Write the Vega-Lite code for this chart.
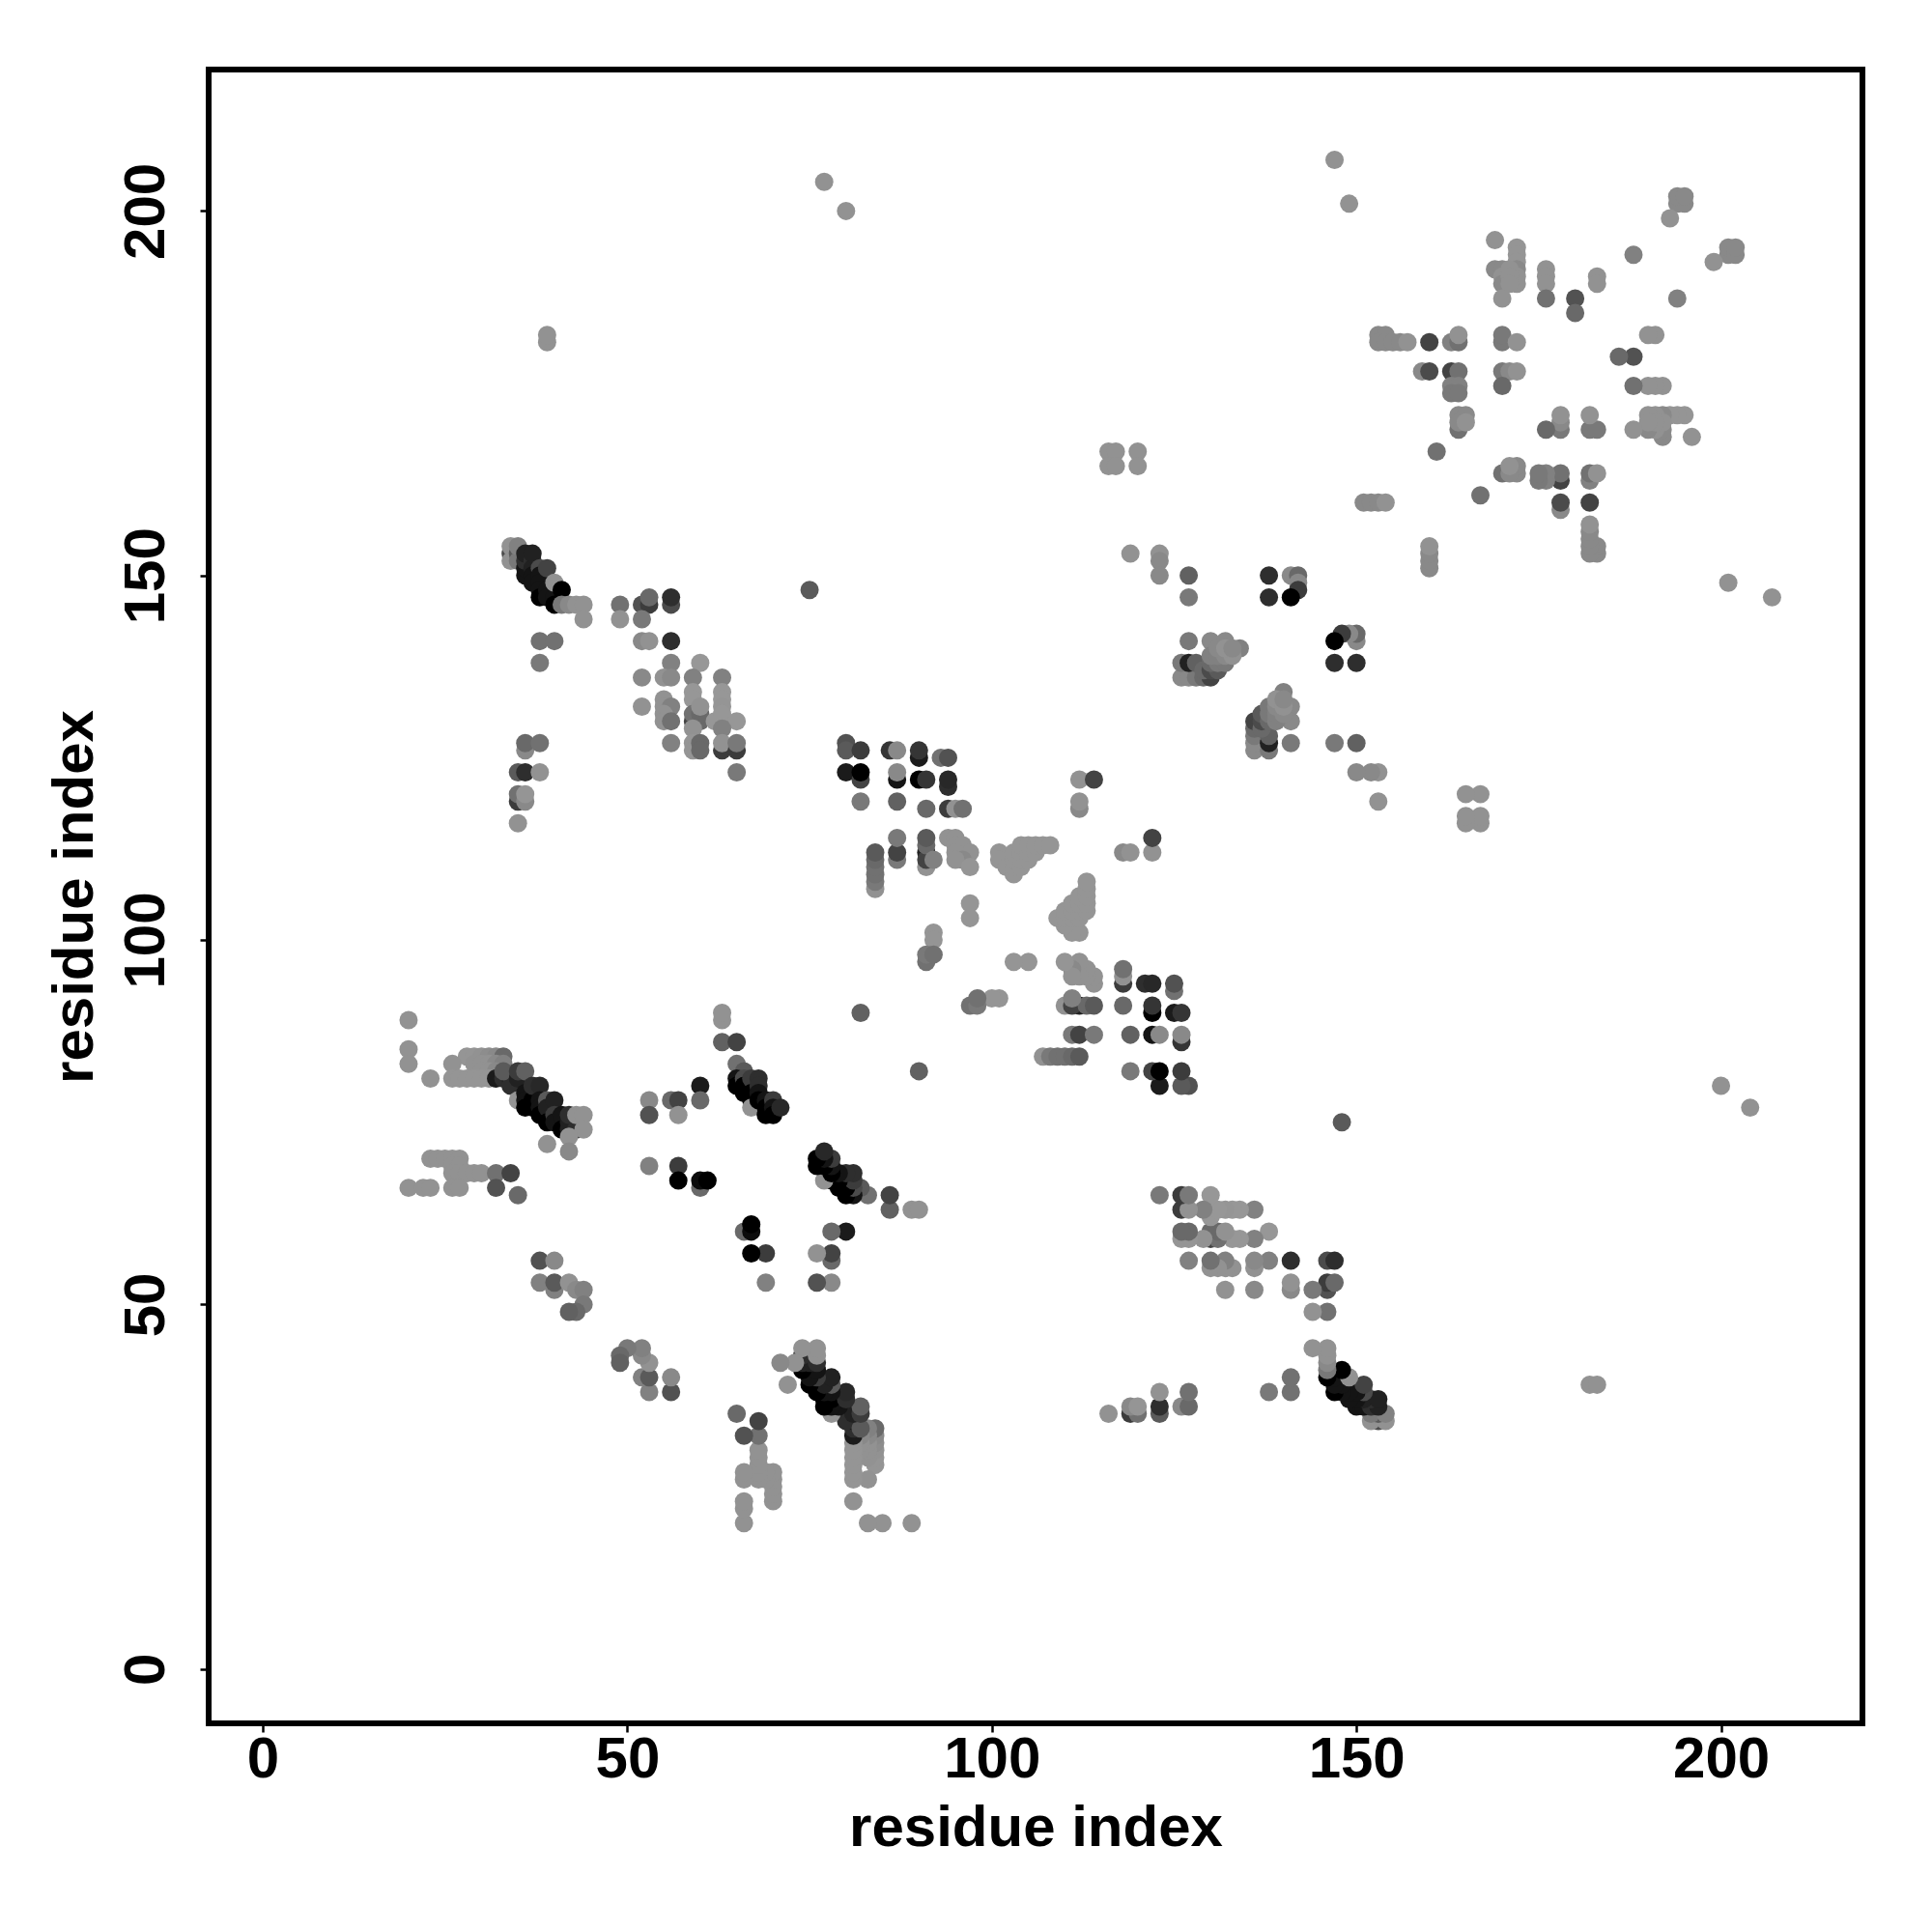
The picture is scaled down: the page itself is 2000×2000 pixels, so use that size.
{"$schema":"https://vega.github.io/schema/vega-lite/v6.json","width":1712,"height":1712,"autosize":{"type":"none"},"padding":{"left":216,"top":72,"right":72,"bottom":216},"background":"white","config":{"view":{"stroke":"black","strokeWidth":6,"fill":"white"},"axis":{"grid":false,"domain":false,"tickColor":"black","tickWidth":2.5,"tickSize":9,"labelFont":"Liberation Sans","labelFontWeight":"bold","labelFontSize":60,"labelColor":"black","titleFont":"Liberation Sans","titleFontWeight":"bold","titleFontSize":60,"titleColor":"black","labelFlush":false,"labelOverlap":false}},
"data":{"values":[
{"i":34,"j":153,"p":0.5},{"i":34,"j":152,"p":0.05},{"i":34,"j":154,"p":0.05},{"i":35,"j":153,"p":0.4},{"i":35,"j":152,"p":0.2},{"i":35,"j":154,"p":0.15},{"i":36,"j":150,"p":0.9},{"i":36,"j":151,"p":0.9},{"i":36,"j":152,"p":0.7},{"i":36,"j":153,"p":0.8},{"i":37,"j":152,"p":0.7},{"i":37,"j":151,"p":0.8},{"i":37,"j":150,"p":0.9},{"i":37,"j":149,"p":0.9},{"i":37,"j":153,"p":0.8},{"i":38,"j":151,"p":0.5},{"i":38,"j":150,"p":0.9},{"i":38,"j":149,"p":0.9},{"i":38,"j":148,"p":0.9},{"i":38,"j":147,"p":1},{"i":39,"j":151,"p":0.55},{"i":39,"j":148,"p":0.9},{"i":39,"j":147,"p":0.9},{"i":40,"j":147,"p":0.9},{"i":40,"j":146,"p":1},{"i":40,"j":149,"p":0.05},{"i":41,"j":148,"p":1},{"i":41,"j":146,"p":0.2},{"i":42,"j":146,"p":0.1},{"i":43,"j":146,"p":0.05},{"i":44,"j":146,"p":0.05},{"i":44,"j":144,"p":0.05},
{"i":49,"j":146,"p":0.25},{"i":49,"j":144,"p":0.05},{"i":52,"j":146,"p":0.45},{"i":53,"j":146,"p":0.6},{"i":53,"j":147,"p":0.3},{"i":52,"j":144,"p":0.2},{"i":56,"j":146,"p":0.5},{"i":56,"j":147,"p":0.7},{"i":52,"j":141,"p":0.1},{"i":53,"j":141,"p":0.05},{"i":56,"j":141,"p":0.7},{"i":38,"j":141,"p":0.25},{"i":40,"j":141,"p":0.25},{"i":38,"j":138,"p":0.2},{"i":56,"j":138,"p":0.15},{"i":60,"j":138,"p":0.02},{"i":52,"j":136,"p":0.1},{"i":55,"j":136,"p":0.05},{"i":56,"j":136,"p":0.1},{"i":59,"j":136,"p":0.15},{"i":63,"j":136,"p":0.15},{"i":59,"j":134,"p":0.02},{"i":63,"j":134,"p":0.02},{"i":55,"j":133,"p":0.05},{"i":59,"j":133,"p":0.02},{"i":63,"j":133,"p":0.02},{"i":52,"j":132,"p":0.05},{"i":55,"j":132,"p":0.05},{"i":56,"j":132,"p":0.15},{"i":59,"j":130,"p":0.55},{"i":60,"j":130,"p":0.3},{"i":59,"j":131,"p":0.25},{"i":60,"j":131,"p":0.3},{"i":60,"j":132,"p":0.05},{"i":63,"j":130,"p":0.55},{"i":63,"j":132,"p":0.03},{"i":55,"j":131,"p":0.05},{"i":55,"j":130,"p":0.05},{"i":56,"j":130,"p":0.25},{"i":62,"j":130,"p":0.02},{"i":63,"j":131,"p":0.02},{"i":65,"j":130,"p":0.02},{"i":63,"j":129,"p":0.15},{"i":59,"j":129,"p":0.05},{"i":56,"j":127,"p":0.15},{"i":59,"j":127,"p":0.03},{"i":59,"j":126,"p":0.03},{"i":60,"j":127,"p":0.3},{"i":60,"j":126,"p":0.3},{"i":63,"j":126,"p":0.6},{"i":63,"j":127,"p":0.05},{"i":65,"j":126,"p":0.6},{"i":65,"j":127,"p":0.2},{"i":65,"j":123,"p":0.2},
{"i":36,"j":126,"p":0.1},{"i":36,"j":127,"p":0.3},{"i":38,"j":127,"p":0.25},{"i":35,"j":123,"p":0.4},{"i":36,"j":123,"p":0.7},{"i":38,"j":123,"p":0.05},{"i":35,"j":119,"p":0.6},{"i":35,"j":120,"p":0.25},{"i":36,"j":119,"p":0.1},{"i":36,"j":120,"p":0.03},{"i":35,"j":116,"p":0.05},
{"i":80,"j":127,"p":0.45},{"i":80,"j":126,"p":0.4},{"i":82,"j":126,"p":0.6},{"i":86,"j":126,"p":0.65},{"i":87,"j":126,"p":0.1},{"i":90,"j":125,"p":0.85},{"i":90,"j":126,"p":0.65},{"i":93,"j":125,"p":0.25},{"i":94,"j":125,"p":0.45},{"i":80,"j":123,"p":0.85},{"i":82,"j":122,"p":0.55},{"i":82,"j":123,"p":1},{"i":87,"j":122,"p":0.9},{"i":87,"j":123,"p":0.1},{"i":90,"j":122,"p":1},{"i":91,"j":122,"p":0.65},{"i":94,"j":121,"p":0.7},{"i":94,"j":122,"p":0.75},{"i":82,"j":119,"p":0.2},{"i":87,"j":119,"p":0.35},{"i":91,"j":118,"p":0.3},{"i":94,"j":118,"p":0.6},{"i":95,"j":118,"p":0.05},{"i":96,"j":118,"p":0.25},
{"i":112,"j":122,"p":0.05},{"i":114,"j":122,"p":0.55},{"i":112,"j":118,"p":0.1},{"i":112,"j":119,"p":0.05},{"i":87,"j":111,"p":0.2},{"i":87,"j":112,"p":0.55},{"i":87,"j":114,"p":0.2},{"i":91,"j":110,"p":0.05},{"i":91,"j":112,"p":0.8},{"i":91,"j":111,"p":0.55},{"i":91,"j":113,"p":0.3},{"i":91,"j":114,"p":0.4},{"i":92,"j":111,"p":0.15},{"i":84,"j":107,"p":0.05},{"i":84,"j":108,"p":0.2},{"i":84,"j":109,"p":0.25},{"i":84,"j":110,"p":0.25},{"i":84,"j":111,"p":0.3},{"i":84,"j":112,"p":0.4},
{"i":94,"j":114,"p":0.05},{"i":95,"j":114,"p":0.05},{"i":95,"j":113,"p":0.05},{"i":96,"j":113,"p":0.05},{"i":97,"j":112,"p":0.05},{"i":95,"j":112,"p":0.05},{"i":96,"j":111,"p":0.1},{"i":95,"j":111,"p":0.05},{"i":97,"j":110,"p":0.03},{"i":97,"j":105,"p":0.03},{"i":97,"j":103,"p":0.03},{"i":92,"j":101,"p":0.03},{"i":92,"j":100,"p":0.03},{"i":91,"j":97,"p":0.25},{"i":91,"j":98,"p":0.2},{"i":92,"j":98,"p":0.25},{"i":82,"j":90,"p":0.35},
{"i":101,"j":112,"p":0.03},{"i":101,"j":111,"p":0.03},{"i":102,"j":110,"p":0.03},{"i":103,"j":109,"p":0.03},{"i":103,"j":110,"p":0.03},{"i":103,"j":111,"p":0.03},{"i":103,"j":112,"p":0.03},{"i":104,"j":110,"p":0.03},{"i":104,"j":111,"p":0.03},{"i":104,"j":112,"p":0.03},{"i":104,"j":113,"p":0.03},{"i":105,"j":111,"p":0.03},{"i":105,"j":112,"p":0.03},{"i":105,"j":113,"p":0.03},{"i":106,"j":112,"p":0.03},{"i":106,"j":113,"p":0.03},{"i":107,"j":113,"p":0.03},{"i":108,"j":113,"p":0.03},
{"i":28,"j":84,"p":0.03},{"i":29,"j":84,"p":0.03},{"i":30,"j":84,"p":0.05},{"i":31,"j":84,"p":0.08},{"i":32,"j":84,"p":0.1},{"i":33,"j":84,"p":0.3},{"i":20,"j":89,"p":0.05},{"i":20,"j":85,"p":0.05},{"i":20,"j":83,"p":0.05},{"i":23,"j":81,"p":0.05},{"i":26,"j":83,"p":0.05},{"i":29,"j":83,"p":0.05},{"i":30,"j":83,"p":0.05},{"i":31,"j":83,"p":0.05},{"i":32,"j":83,"p":0.1},{"i":33,"j":83,"p":0.15},{"i":30,"j":82,"p":0.05},{"i":31,"j":82,"p":0.05},{"i":32,"j":82,"p":0.1},{"i":26,"j":81,"p":0.03},{"i":27,"j":81,"p":0.03},{"i":28,"j":81,"p":0.03},{"i":29,"j":81,"p":0.03},{"i":30,"j":81,"p":0.03},{"i":31,"j":81,"p":0.03},{"i":32,"j":81,"p":0.85},{"i":33,"j":81,"p":0.7},{"i":34,"j":81,"p":0.85},{"i":34,"j":80,"p":0.7},{"i":33,"j":82,"p":0.4},{"i":35,"j":78,"p":0.03},{"i":35,"j":81,"p":0.8},{"i":35,"j":82,"p":0.6},{"i":36,"j":82,"p":0.35},{"i":36,"j":79,"p":0.9},{"i":37,"j":79,"p":0.9},{"i":36,"j":78,"p":0.9},{"i":36,"j":77,"p":1},{"i":37,"j":77,"p":1},{"i":37,"j":78,"p":1},{"i":37,"j":80,"p":0.7},{"i":38,"j":80,"p":0.75},{"i":38,"j":78,"p":0.9},{"i":38,"j":77,"p":0.9},{"i":38,"j":76,"p":1},{"i":39,"j":78,"p":0.4},{"i":39,"j":77,"p":0.8},{"i":39,"j":75,"p":1},{"i":40,"j":78,"p":0.8},{"i":40,"j":76,"p":0.6},{"i":40,"j":75,"p":0.9},{"i":41,"j":76,"p":0.9},{"i":41,"j":74,"p":1},{"i":42,"j":75,"p":0.8},{"i":42,"j":74,"p":0.8},{"i":42,"j":76,"p":0.7},{"i":43,"j":74,"p":0.7},{"i":43,"j":76,"p":0.05},{"i":44,"j":76,"p":0.05},{"i":44,"j":74,"p":0.05},{"i":42,"j":73,"p":0.05},{"i":39,"j":72,"p":0.05},{"i":42,"j":71,"p":0.1},
{"i":23,"j":70,"p":0.05},{"i":24,"j":70,"p":0.05},{"i":25,"j":70,"p":0.05},{"i":26,"j":70,"p":0.05},{"i":27,"j":70,"p":0.05},{"i":26,"j":69,"p":0.05},{"i":27,"j":69,"p":0.05},{"i":26,"j":68,"p":0.05},{"i":27,"j":68,"p":0.05},{"i":28,"j":68,"p":0.05},{"i":29,"j":68,"p":0.05},{"i":30,"j":68,"p":0.05},{"i":32,"j":68,"p":0.25},{"i":34,"j":68,"p":0.55},{"i":20,"j":66,"p":0.05},{"i":22,"j":66,"p":0.05},{"i":23,"j":66,"p":0.05},{"i":26,"j":66,"p":0.05},{"i":27,"j":66,"p":0.05},{"i":32,"j":66,"p":0.45},{"i":35,"j":65,"p":0.3},
{"i":38,"j":56,"p":0.45},{"i":40,"j":56,"p":0.1},{"i":38,"j":53,"p":0.15},{"i":40,"j":52,"p":0.15},{"i":40,"j":53,"p":0.4},{"i":42,"j":53,"p":0.05},{"i":43,"j":52,"p":0.1},{"i":44,"j":52,"p":0.15},{"i":44,"j":50,"p":0.2},{"i":43,"j":49,"p":0.3},{"i":42,"j":49,"p":0.35},
{"i":53,"j":78,"p":0.1},{"i":53,"j":76,"p":0.45},{"i":56,"j":78,"p":0.3},{"i":57,"j":78,"p":0.55},{"i":57,"j":76,"p":0.05},{"i":60,"j":80,"p":0.85},{"i":60,"j":78,"p":0.3},{"i":53,"j":69,"p":0.15},{"i":57,"j":69,"p":0.6},{"i":57,"j":67,"p":1},{"i":60,"j":66,"p":0.3},{"i":60,"j":67,"p":0.95},{"i":61,"j":67,"p":1},
{"i":63,"j":89,"p":0.05},{"i":63,"j":90,"p":0.05},{"i":63,"j":86,"p":0.35},{"i":65,"j":86,"p":0.55},{"i":65,"j":83,"p":0.25},{"i":66,"j":82,"p":0.4},{"i":65,"j":81,"p":0.9},{"i":65,"j":80,"p":1},{"i":66,"j":81,"p":0.5},{"i":66,"j":80,"p":1},{"i":66,"j":79,"p":1},{"i":67,"j":81,"p":0.6},{"i":67,"j":79,"p":1},{"i":67,"j":78,"p":1},{"i":67,"j":77,"p":0.05},{"i":68,"j":81,"p":0.7},{"i":68,"j":80,"p":0.7},{"i":68,"j":79,"p":0.9},{"i":68,"j":78,"p":1},{"i":69,"j":78,"p":0.9},{"i":69,"j":77,"p":1},{"i":69,"j":76,"p":1},{"i":70,"j":78,"p":0.6},{"i":70,"j":77,"p":0.9},{"i":70,"j":76,"p":1},{"i":71,"j":77,"p":0.75},
{"i":75,"j":148,"p":0.4},{"i":39,"j":182,"p":0.05},{"i":39,"j":183,"p":0.05},{"i":77,"j":204,"p":0.05},{"i":80,"j":200,"p":0.05},
{"i":119,"j":153,"p":0.05},{"i":123,"j":153,"p":0.05},{"i":123,"j":152,"p":0.1},{"i":123,"j":150,"p":0.1},{"i":127,"j":150,"p":0.35},{"i":127,"j":147,"p":0.2},{"i":138,"j":150,"p":0.7},{"i":141,"j":150,"p":0.1},{"i":142,"j":150,"p":0.3},{"i":142,"j":149,"p":0.1},{"i":142,"j":148,"p":0.6},{"i":138,"j":147,"p":0.7},{"i":141,"j":147,"p":1},
{"i":127,"j":141,"p":0.2},{"i":130,"j":141,"p":0.1},{"i":132,"j":141,"p":0.1},{"i":134,"j":140,"p":0.15},{"i":126,"j":136,"p":0.1},{"i":127,"j":136,"p":0.1},{"i":128,"j":136,"p":0.2},{"i":129,"j":136,"p":0.3},{"i":130,"j":136,"p":0.55},{"i":126,"j":138,"p":0.2},{"i":127,"j":138,"p":0.8},{"i":128,"j":138,"p":0.35},{"i":129,"j":137,"p":0.3},{"i":130,"j":137,"p":0.5},{"i":131,"j":137,"p":0.4},{"i":130,"j":138,"p":0.3},{"i":131,"j":138,"p":0.2},{"i":132,"j":138,"p":0.2},{"i":130,"j":139,"p":0.15},{"i":131,"j":139,"p":0.15},{"i":132,"j":139,"p":0.1},{"i":133,"j":139,"p":0.05},{"i":131,"j":140,"p":0.1},{"i":132,"j":140,"p":0.05},{"i":133,"j":140,"p":0.1},
{"i":147,"j":207,"p":0.05},{"i":149,"j":201,"p":0.05},{"i":194,"j":201,"p":0.1},{"i":195,"j":201,"p":0.1},{"i":194,"j":202,"p":0.1},{"i":195,"j":202,"p":0.1},{"i":193,"j":199,"p":0.05},{"i":169,"j":196,"p":0.05},{"i":172,"j":195,"p":0.03},{"i":172,"j":194,"p":0.03},{"i":172,"j":193,"p":0.03},{"i":172,"j":192,"p":0.1},{"i":172,"j":191,"p":0.05},{"i":172,"j":190,"p":0.05},{"i":169,"j":192,"p":0.1},{"i":170,"j":192,"p":0.1},{"i":170,"j":191,"p":0.05},{"i":170,"j":190,"p":0.1},{"i":171,"j":192,"p":0.05},{"i":171,"j":191,"p":0.05},{"i":171,"j":190,"p":0.05},{"i":170,"j":188,"p":0.05},{"i":176,"j":192,"p":0.05},{"i":176,"j":191,"p":0.05},{"i":176,"j":190,"p":0.05},{"i":176,"j":188,"p":0.25},{"i":183,"j":191,"p":0.05},{"i":183,"j":190,"p":0.05},{"i":180,"j":188,"p":0.45},{"i":180,"j":186,"p":0.3},{"i":188,"j":194,"p":0.15},
{"i":153,"j":183,"p":0.1},{"i":154,"j":183,"p":0.1},{"i":153,"j":182,"p":0.1},{"i":154,"j":182,"p":0.1},{"i":155,"j":182,"p":0.1},{"i":156,"j":182,"p":0.1},{"i":157,"j":182,"p":0.05},{"i":160,"j":182,"p":0.55},{"i":163,"j":182,"p":0.15},{"i":164,"j":182,"p":0.25},{"i":164,"j":183,"p":0.05},{"i":170,"j":182,"p":0.2},{"i":170,"j":183,"p":0.2},{"i":172,"j":182,"p":0.05},{"i":159,"j":178,"p":0.1},{"i":160,"j":178,"p":0.5},{"i":163,"j":178,"p":0.55},{"i":164,"j":178,"p":0.25},{"i":170,"j":178,"p":0.2},{"i":171,"j":178,"p":0.1},{"i":172,"j":178,"p":0.05},{"i":170,"j":176,"p":0.3},{"i":163,"j":176,"p":0.15},{"i":164,"j":176,"p":0.15},{"i":163,"j":175,"p":0.2},{"i":164,"j":175,"p":0.2},{"i":164,"j":172,"p":0.1},{"i":165,"j":172,"p":0.1},{"i":164,"j":170,"p":0.25},{"i":164,"j":171,"p":0.1},{"i":165,"j":171,"p":0.05},{"i":161,"j":167,"p":0.25},{"i":151,"j":160,"p":0.1},{"i":152,"j":160,"p":0.1},{"i":153,"j":160,"p":0.1},{"i":154,"j":160,"p":0.05},{"i":116,"j":167,"p":0.05},{"i":117,"j":167,"p":0.05},{"i":120,"j":167,"p":0.05},{"i":116,"j":165,"p":0.05},{"i":117,"j":165,"p":0.05},{"i":120,"j":165,"p":0.05}
]},
"layer":[
{"mark":{"type":"point","shape":"circle","filled":true,"opacity":1,"size":360},"encoding":{
"x":{"field":"i","type":"quantitative","title":"residue index","scale":{"domain":[-7.42,219.4],"nice":false,"zero":false},"axis":{"values":[0,50,100,150,200],"labelBaseline":"alphabetic","labelPadding":46,"titlePadding":12}},
"y":{"field":"j","type":"quantitative","title":"residue index","scale":{"domain":[-7.46,219.4],"nice":false,"zero":false},"axis":{"values":[0,50,100,150,200],"labelAngle":270,"labelAlign":"center","labelBaseline":"alphabetic","labelPadding":38,"titlePadding":13}},
"color":{"field":"p","type":"quantitative","legend":null,"scale":{"domain":[0,1],"range":["#9a9a9a","#000000"]}}}},
{"mark":{"type":"point","shape":"circle","filled":true,"opacity":1,"size":360},"encoding":{
"x":{"field":"j","type":"quantitative","title":"residue index","scale":{"domain":[-7.42,219.4],"nice":false,"zero":false}},
"y":{"field":"i","type":"quantitative","title":"residue index","scale":{"domain":[-7.46,219.4],"nice":false,"zero":false}},
"color":{"field":"p","type":"quantitative","legend":null,"scale":{"domain":[0,1],"range":["#9a9a9a","#000000"]}}}}
]}
